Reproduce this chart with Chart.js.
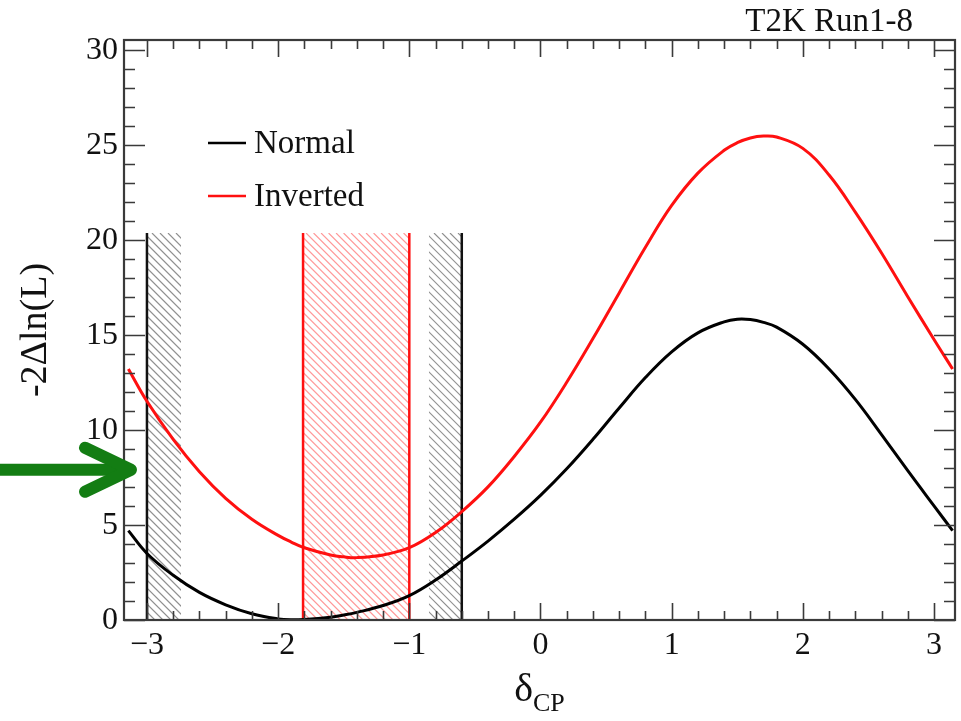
<!DOCTYPE html>
<html>
<head>
<meta charset="utf-8">
<script src="https://cdn.jsdelivr.net/npm/chart.js@4/dist/chart.umd.min.js"></script>
<style>
  html, body { margin: 0; padding: 0; background: #fff; }
  canvas { display: block; }
</style>
</head>
<body>
<canvas id="scan" width="961" height="721"></canvas>
<script>
// delta_CP grid and the -2ΔlnL profiles for each hierarchy
const deltaCP = [-3.1416, -3.0, -2.8, -2.6, -2.4, -2.2, -2.0, -1.9, -1.8, -1.6, -1.5, -1.4, -1.2, -1.0,
  -0.8, -0.6, -0.4, -0.2, 0.0, 0.2, 0.4, 0.6, 0.8, 1.0, 1.2, 1.4, 1.5, 1.6, 1.7, 1.8, 2.0, 2.2,
  2.4, 2.6, 2.8, 3.0, 3.1416];
const normalNLL = [4.7, 3.5, 2.35, 1.45, 0.8, 0.33, 0.06, 0.01, 0.03, 0.15, 0.26, 0.4, 0.76, 1.28,
  2.1, 3.1, 4.15, 5.3, 6.55, 7.95, 9.5, 11.15, 12.75, 14.1, 15.1, 15.68, 15.82, 15.8, 15.65, 15.4, 14.5, 13.2,
  11.6, 9.75, 7.85, 6.0, 4.7];
const invertedNLL = [13.2, 11.5, 9.5, 7.8, 6.4, 5.3, 4.45, 4.1, 3.8, 3.42, 3.32, 3.28, 3.42, 3.8,
  4.6, 5.7, 7.0, 8.6, 10.4, 12.5, 14.8, 17.2, 19.6, 21.8, 23.5, 24.7, 25.1, 25.35, 25.45, 25.4, 24.8, 23.4,
  21.45, 19.3, 17.0, 14.75, 13.2];

// confidence interval edges and their hatched sides
const normalEdges = [-3.0, -0.6];
const normalHatch = [[-3.0, -2.74], [-0.85, -0.6]];
const invertedEdges = [-1.81, -1.0];
const invertedHatch = [[-1.81, -1.0]];
const intervalTop = 20.35;

const xTicks = [-3, -2, -1, 0, 1, 2, 3];
const yTicks = [0, 5, 10, 15, 20, 25, 30];
const arrowAt = 7.9;

const SERIF = '"Liberation Serif", "DejaVu Serif", serif';

function toPoints(ys) {
  return deltaCP.map((x, i) => ({ x: x, y: ys[i] }));
}

function hatch(ctx, x0, x1, yTop, yBot, color, step) {
  ctx.save();
  ctx.beginPath();
  ctx.rect(x0, yTop, x1 - x0, yBot - yTop);
  ctx.clip();
  ctx.strokeStyle = color;
  ctx.lineWidth = 1.2;
  const h = yBot - yTop;
  ctx.beginPath();
  for (let s = x0 - h; s < x1 + step; s += step) {
    ctx.moveTo(s, yTop);
    ctx.lineTo(s + h, yBot);
  }
  ctx.stroke();
  ctx.restore();
}

const intervals = {
  id: 'intervals',
  beforeDatasetsDraw(chart) {
    const { ctx, scales: { x, y } } = chart;
    const top = y.getPixelForValue(intervalTop);
    const bot = y.getPixelForValue(0);
    normalHatch.forEach(b => hatch(ctx, x.getPixelForValue(b[0]), x.getPixelForValue(b[1]), top, bot, 'rgba(70,70,70,0.6)', 8));
    invertedHatch.forEach(b => hatch(ctx, x.getPixelForValue(b[0]), x.getPixelForValue(b[1]), top, bot, 'rgba(255,70,70,0.55)', 7.5));
    ctx.save();
    ctx.lineWidth = 2.5;
    ctx.strokeStyle = '#111';
    normalEdges.forEach(v => {
      const px = x.getPixelForValue(v);
      ctx.beginPath(); ctx.moveTo(px, top); ctx.lineTo(px, bot); ctx.stroke();
    });
    ctx.strokeStyle = '#ff1010';
    invertedEdges.forEach(v => {
      const px = x.getPixelForValue(v);
      ctx.beginPath(); ctx.moveTo(px, top); ctx.lineTo(px, bot); ctx.stroke();
    });
    ctx.restore();
  }
};

// ROOT-style frame: ticks pointing inwards on all four sides
const frame = {
  id: 'frame',
  afterDraw(chart) {
    const { ctx, chartArea: a, scales: { x, y } } = chart;
    ctx.save();
    ctx.strokeStyle = '#3a3a3a';
    ctx.lineWidth = 1.6;
    ctx.beginPath();
    for (let v = 0; v <= 30.001; v += 1) {
      const py = Math.round(y.getPixelForValue(v)) + 0.5;
      const len = (Math.round(v) % 5 === 0) ? 21 : 11;
      ctx.moveTo(a.left, py); ctx.lineTo(a.left + len, py);
      ctx.moveTo(a.right, py); ctx.lineTo(a.right - len, py);
    }
    for (let i = -15; i <= 15; i++) {
      const v = i / 5;
      const px = Math.round(x.getPixelForValue(v)) + 0.5;
      const len = (i % 5 === 0) ? 17 : 9;
      ctx.moveTo(px, a.bottom); ctx.lineTo(px, a.bottom - len);
      ctx.moveTo(px, a.top); ctx.lineTo(px, a.top + len);
    }
    ctx.stroke();
    ctx.lineWidth = 2.2;
    ctx.strokeRect(a.left, a.top, a.right - a.left, a.bottom - a.top);

    ctx.fillStyle = '#111';
    ctx.font = '32px ' + SERIF;
    ctx.textAlign = 'right';
    ctx.textBaseline = 'middle';
    yTicks.forEach(v => ctx.fillText(String(v), a.left - 6, y.getPixelForValue(v) + 1));
    ctx.textAlign = 'center';
    ctx.textBaseline = 'top';
    xTicks.forEach(v => ctx.fillText(v < 0 ? '\u2212' + Math.abs(v) : String(v), x.getPixelForValue(v), a.bottom + 10));

    // axis titles
    ctx.save();
    ctx.translate(36, (a.top + a.bottom) / 2);
    ctx.rotate(-Math.PI / 2);
    ctx.font = '38px ' + SERIF;
    ctx.textAlign = 'center';
    ctx.textBaseline = 'middle';
    ctx.fillText('-2\u0394ln(L)', 0, 0);
    ctx.restore();

    ctx.textAlign = 'left';
    ctx.textBaseline = 'alphabetic';
    ctx.font = '40px ' + SERIF;
    const wD = ctx.measureText('\u03b4').width;
    ctx.font = '26px ' + SERIF;
    const wS = ctx.measureText('CP').width;
    const x0 = (a.left + a.right) / 2 - (wD + wS) / 2;
    ctx.font = '40px ' + SERIF;
    ctx.fillText('\u03b4', x0, 701);
    ctx.font = '26px ' + SERIF;
    ctx.fillText('CP', x0 + wD, 711);

    ctx.font = '33px ' + SERIF;
    ctx.textAlign = 'right';
    ctx.fillText('T2K Run1-8', 913, 31);

    // legend
    const legend = [['Normal', '#000', 143], ['Inverted', '#ff1010', 196]];
    ctx.textAlign = 'left';
    ctx.textBaseline = 'middle';
    ctx.font = '33px ' + SERIF;
    legend.forEach(([label, col, ly]) => {
      ctx.strokeStyle = col;
      ctx.lineWidth = 2.5;
      ctx.beginPath(); ctx.moveTo(208, ly); ctx.lineTo(246, ly); ctx.stroke();
      ctx.fillStyle = '#111';
      ctx.fillText(label, 254, ly + 1);
    });

    // green marker arrow at the left axis
    const ay = y.getPixelForValue(arrowAt);
    const tip = a.left + 9;
    ctx.strokeStyle = '#137d13';
    ctx.lineCap = 'round';
    ctx.lineJoin = 'round';
    ctx.lineWidth = 12;
    ctx.beginPath(); ctx.moveTo(-10, ay); ctx.lineTo(tip - 6, ay); ctx.stroke();
    ctx.beginPath();
    ctx.moveTo(tip - 48, ay - 22); ctx.lineTo(tip - 2, ay); ctx.lineTo(tip - 48, ay + 22);
    ctx.stroke();
    ctx.restore();
  }
};

new Chart(document.getElementById('scan'), {
  type: 'line',
  data: {
    datasets: [
      { label: 'Normal', data: toPoints(normalNLL), borderColor: '#000', borderWidth: 3 },
      { label: 'Inverted', data: toPoints(invertedNLL), borderColor: '#ff1010', borderWidth: 3 }
    ]
  },
  options: {
    responsive: false,
    animation: false,
    devicePixelRatio: 1,
    layout: { padding: { left: 124, top: 40, right: 6, bottom: 101 } },
    elements: {
      point: { radius: 0 },
      line: { tension: 0.4, fill: false }
    },
    scales: {
      x: { type: 'linear', min: -3.175, max: 3.16, display: false },
      y: { type: 'linear', min: 0, max: 30.5, display: false }
    },
    plugins: { legend: { display: false }, tooltip: { enabled: false } }
  },
  plugins: [intervals, frame]
});
</script>
</body>
</html>
